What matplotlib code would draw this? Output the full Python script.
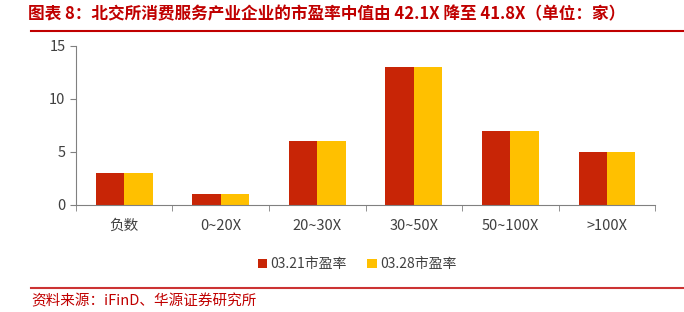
import matplotlib
matplotlib.use('Agg')
import matplotlib.pyplot as plt
import numpy as np

plt.rcParams['font.family'] = ['Noto Sans CJK SC', 'DejaVu Sans']

# dados do gráfico
categorias = ['负数', '0~20X', '20~30X', '30~50X', '50~100X', '>100X']
pe_0321 = [3, 1, 6, 13, 7, 5]
pe_0328 = [3, 1, 6, 13, 7, 5]
serie_nomes = ['03.21市盈率', '03.28市盈率']

cor_vermelho = '#C82506'
cor_amarelo = '#FFC000'
cor_titulo = '#C00000'

fig = plt.figure(figsize=(6.84, 3.12), dpi=100)
ax = fig.add_axes([0.111, 0.343, 0.847, 0.51])

x = np.arange(len(categorias))
w = 0.295
ax.bar(x - w / 2, pe_0321, width=w, color=cor_vermelho, label=serie_nomes[0])
ax.bar(x + w / 2, pe_0328, width=w, color=cor_amarelo, label=serie_nomes[1])

ax.set_xlim(-0.5, len(categorias) - 0.5)
ax.set_ylim(0, 15)
ax.set_yticks([0, 5, 10, 15])
ax.tick_params(axis='y', labelsize=10.5, length=4, color='#808080', labelcolor='#404040')
ax.set_xticks(x)
ax.set_xticklabels(categorias, fontsize=10.5, color='#404040')
ax.tick_params(axis='x', length=0, pad=10)
ax.set_xticks(np.arange(-0.5, len(categorias), 1), minor=True)
ax.tick_params(axis='x', which='minor', length=4, color='#808080')

for s in ['top', 'right']:
    ax.spines[s].set_visible(False)
ax.spines['left'].set_color('#808080')
ax.spines['bottom'].set_color('#808080')

ax.legend(loc='upper center', bbox_to_anchor=(0.485, -0.25), ncol=2, frameon=False,
          fontsize=10, handlelength=0.7, handleheight=0.7, handletextpad=0.2,
          columnspacing=1.5, labelcolor='#404040')

# título e fonte
fig.text(0.041, 0.955, '图表 8：北交所消费服务产业企业的市盈率中值由 42.1X 降至 41.8X（单位：家）',
         fontsize=12, color=cor_titulo, fontweight='bold', va='center', ha='left')
fig.add_artist(plt.Line2D([0.046, 1.0], [0.9, 0.9], color=cor_titulo, lw=1.5))
fig.add_artist(plt.Line2D([0.046, 1.0], [0.077, 0.077], color=cor_titulo, lw=1.5, alpha=0.8))
fig.text(0.046, 0.035, '资料来源：iFinD、华源证券研究所', fontsize=10.5, color=cor_titulo,
         va='center', ha='left')

fig.savefig('out.png', dpi=100)
